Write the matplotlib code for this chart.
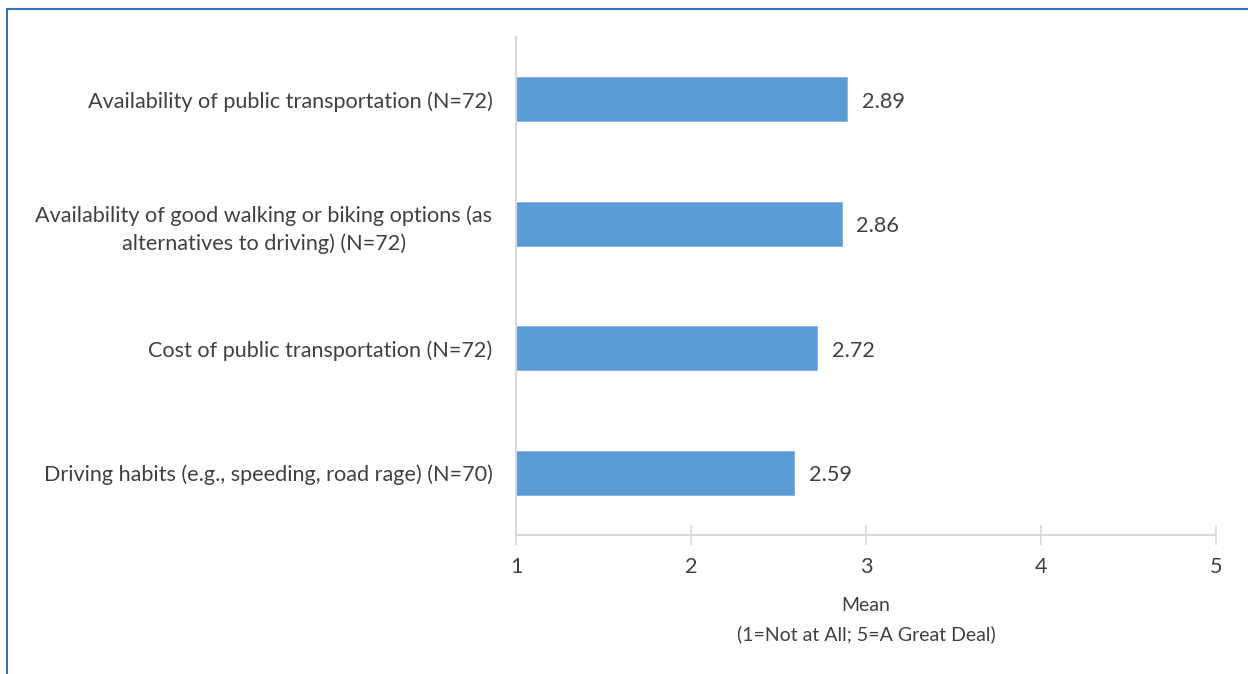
import matplotlib.pyplot as plt
import matplotlib.lines as mlines

# Data
categories = [
    'Availability of public transportation (N=72)',
    'Availability of good walking or biking options (as\nalternatives to driving) (N=72)',
    'Cost of public transportation (N=72)',
    'Driving habits (e.g., speeding, road rage) (N=70)',
]
means = [2.89, 2.86, 2.72, 2.59]
xticks = [1, 2, 3, 4, 5]

plt.rcParams['font.family'] = ['Lato', 'DejaVu Sans']
text_color = '#404040'
bar_color = '#5B9BD5'
axis_color = '#D9D9D9'
fs = 15.6

fig = plt.figure(figsize=(12.48, 6.74), dpi=100)
ax = fig.add_axes([0.4135, 0.2062, 0.9744 - 0.4135, 0.9451 - 0.2062])

ypos = list(range(len(categories)))[::-1]
base = xticks[0]
bars = ax.barh(ypos, [m - base for m in means], left=base, height=0.355,
               color=bar_color, edgecolor='#7FB2E0', linewidth=0.6)

for y, m in zip(ypos, means):
    ax.text(m + 0.085, y - 0.02, f'{m:.2f}', va='center', ha='left',
            fontsize=fs, color=text_color)

ax.set_xlim(1, 5)
ax.set_ylim(-0.5, len(categories) - 0.5)
ax.set_xticks(xticks)
ax.set_xticklabels([str(t) for t in xticks], fontsize=fs, color=text_color)
ax.set_yticks(ypos)
ax.set_yticklabels(categories, fontsize=fs, color=text_color, linespacing=1.47,
                   multialignment='center')
ax.tick_params(axis='y', length=0, pad=17)
ax.tick_params(axis='x', direction='inout', length=14, width=1.2,
               color=axis_color, pad=9)

for s in ['top', 'right']:
    ax.spines[s].set_visible(False)
ax.spines['left'].set_color(axis_color)
ax.spines['left'].set_linewidth(1.5)
ax.spines['bottom'].set_color(axis_color)
ax.spines['bottom'].set_linewidth(1.5)

ax.set_xlabel('Mean\n(1=Not at All; 5=A Great Deal)', fontsize=14,
              color=text_color, labelpad=14, linespacing=1.8)

# blue frame around the chart area
top_y = 1 - 8.5 / 674
left_x = 7 / 1248
fig.add_artist(mlines.Line2D([left_x, 1], [top_y, top_y], color='#2E75B6',
                             linewidth=1.5, transform=fig.transFigure))
fig.add_artist(mlines.Line2D([left_x, left_x], [0, top_y], color='#2E75B6',
                             linewidth=1.5, transform=fig.transFigure))

fig.savefig('out.png', dpi=100)
